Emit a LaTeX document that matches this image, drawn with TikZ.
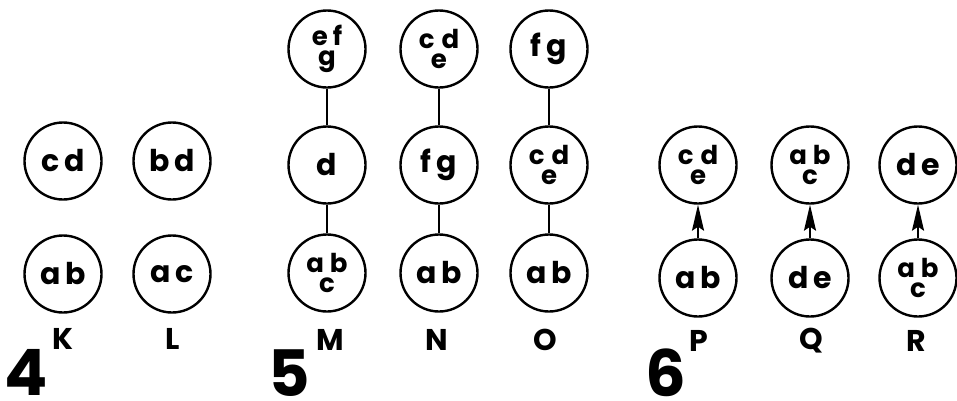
\documentclass[tikz,border=0pt]{standalone}
\usepackage{fontspec}
\setmainfont{Poppins}
\usetikzlibrary{arrows.meta}
\newcommand\stk[4]{\vbox{\fontsize{26}{26}\selectfont\offinterlineskip\halign{\hfil##\hfil\cr #1\hspace{#4}#2\cr\noalign{\vskip 5pt}#3\cr}}}
\begin{document}
\begin{tikzpicture}[x=1pt,y=-1pt,
  font=\bfseries\fontsize{30}{30}\selectfont,
  vert/.style={circle,draw,line width=2.4pt,minimum size=77pt,inner sep=0pt},
  lab/.style={inner sep=0pt},
  big/.style={inner sep=0pt,font=\bfseries\fontsize{64}{64}\selectfont},
  link/.style={line width=1.8pt},
  arr/.style={line width=2pt,-{Stealth[length=26pt,width=12pt,inset=4pt]}}]
\useasboundingbox (0,0) rectangle (957,400);
% panel 4
\node[vert] (K2) at (63,161) {c\hspace{5pt}d};
\node[vert] (K1) at (63,274) {a\hspace{5pt}b};
\node[vert] (L2) at (172,161) {b\hspace{5pt}d};
\node[vert] (L1) at (172,274) {a\hspace{5pt}c};
\node[lab] (Klab) at (63,339) {K};
\node[lab] (Llab) at (173,339) {L};
\node[big] (n4) at (26,372) {4};
% panel 5
\node[vert] (M3) at (327,49) {\stk{e}{f}{g}{5pt}};
\node[vert] (M2) at (327,165) {d};
\node[vert] (M1) at (327,273) {\stk{a}{b}{c}{6pt}};
\node[vert] (N3) at (439,49) {\stk{c}{d}{e}{7pt}};
\node[vert] (N2) at (439,165) {f\hspace{5pt}g};
\node[vert] (N1) at (439,273) {a\hspace{5pt}b};
\node[vert] (O3) at (549,49) {f\hspace{5pt}g};
\node[vert] (O2) at (549,165) {\stk{c}{d}{e}{7pt}};
\node[vert] (O1) at (549,273) {a\hspace{5pt}b};
\draw[link] (M3) -- (M2);
\draw[link] (M2) -- (M1);
\draw[link] (N3) -- (N2);
\draw[link] (N2) -- (N1);
\draw[link] (O3) -- (O2);
\draw[link] (O2) -- (O1);
\node[lab] (Mlab) at (330,340) {M};
\node[lab] (Nlab) at (437,340) {N};
\node[lab] (Olab) at (545,340) {O};
\node[big] (n5) at (289,373) {5};
% panel 6
\node[vert] (P2) at (698,165) {\stk{c}{d}{e}{7pt}};
\node[vert] (P1) at (698,278) {a\hspace{5pt}b};
\node[vert] (Q2) at (810,165) {\stk{a}{b}{c}{6pt}};
\node[vert] (Q1) at (810,278) {d\hspace{5pt}e};
\node[vert] (R2) at (918,165) {d\hspace{5pt}e};
\node[vert] (R1) at (918,278) {\stk{a}{b}{c}{6pt}};
\draw[arr] (P1) -- (P2);
\draw[arr] (Q1) -- (Q2);
\draw[arr] (R1) -- (R2);
\node[lab] (Plab) at (699,341) {P};
\node[lab] (Qlab) at (811,341) {Q};
\node[lab] (Rlab) at (916,341) {R};
\node[big] (n6) at (666,373) {6};
\end{tikzpicture}
\end{document}
